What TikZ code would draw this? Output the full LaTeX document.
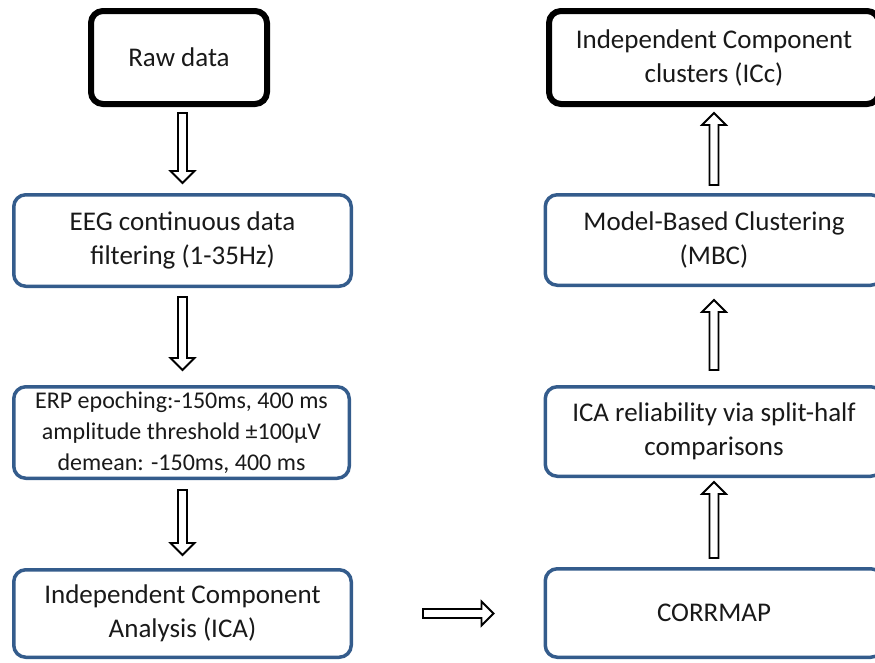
\documentclass[tikz,border=0pt]{standalone}
\usepackage{fontspec}
\setmainfont{Carlito}
\usetikzlibrary{calc}
\definecolor{boxblue}{RGB}{52,92,140}
\newcommand\blockarr[4]{%
  \coordinate (s) at ($(#1)!#3!(#2)$);
  \coordinate (e) at ($(#2)!#4!(#1)$);
  \coordinate (h) at ($(e)!12pt!(s)$);
  \draw[barrowstyle] ($(s)!4.5pt!90:(e)$) -- ($(h)!4.5pt!-90:(s)$) -- ($(h)!12pt!-90:(s)$) -- (e)
    -- ($(h)!12pt!90:(s)$) -- ($(h)!4.5pt!90:(s)$) -- ($(s)!4.5pt!-90:(e)$) -- cycle;
}
\tikzset{
  box/.style={draw=boxblue, line width=3.5pt, rounded corners=12pt, align=center,
    inner sep=0pt, minimum width=337.5pt, text=black!90,
    font=\fontsize{27}{34}\selectfont},
  blackbox/.style={box, draw=black, line width=6pt},
  barrowstyle/.style={draw=black, fill=white, line width=1.8pt, line join=miter},
}
\begin{document}
\begin{tikzpicture}[x=1pt,y=-1pt]
\useasboundingbox (0,0) rectangle (875,662);
\node[blackbox, minimum width=176pt, minimum height=93pt] (raw) at (179,57.5) {Raw data};
\node[box, minimum height=91.5pt] (eeg) at (182.5,240.5) {EEG continuous data\\filtering (1-35Hz)};
\node[box, minimum width=335.5pt, minimum height=91.5pt, font=\fontsize{24}{31}\selectfont] (erp) at (181.5,432.5) {ERP epoching:-150ms, 400 ms\\amplitude threshold ±100µV\\demean: -150ms, 400 ms};
\node[box, minimum height=87.5pt] (ica) at (182.5,613.5) {Independent Component\\Analysis (ICA)};
\node[box, minimum height=88.5pt] (corr) at (714,613) {CORRMAP};
\node[box, minimum height=89.5pt] (rel) at (714,431.5) {ICA reliability via split-half\\comparisons};
\node[box, minimum height=90.5pt] (mbc) at (714,240) {Model-Based Clustering\\(MBC)};
\node[blackbox, minimum width=330pt, minimum height=93pt] (icc) at (714,57.5) {Independent Component\\clusters (ICc)};
\blockarr{raw.south -| eeg.north}{eeg.north}{6pt}{10pt}
\blockarr{eeg.south}{erp.north -| eeg.south}{9pt}{15pt}
\blockarr{erp.south -| ica.north}{ica.north}{10pt}{13pt}
\blockarr{ica.east}{corr.west |- ica.east}{70pt}{50pt}
\blockarr{corr.north}{rel.south}{9pt}{4pt}
\blockarr{rel.north}{mbc.south}{15pt}{13pt}
\blockarr{mbc.north}{icc.south -| mbc.north}{8pt}{6pt}
\end{tikzpicture}
\end{document}
